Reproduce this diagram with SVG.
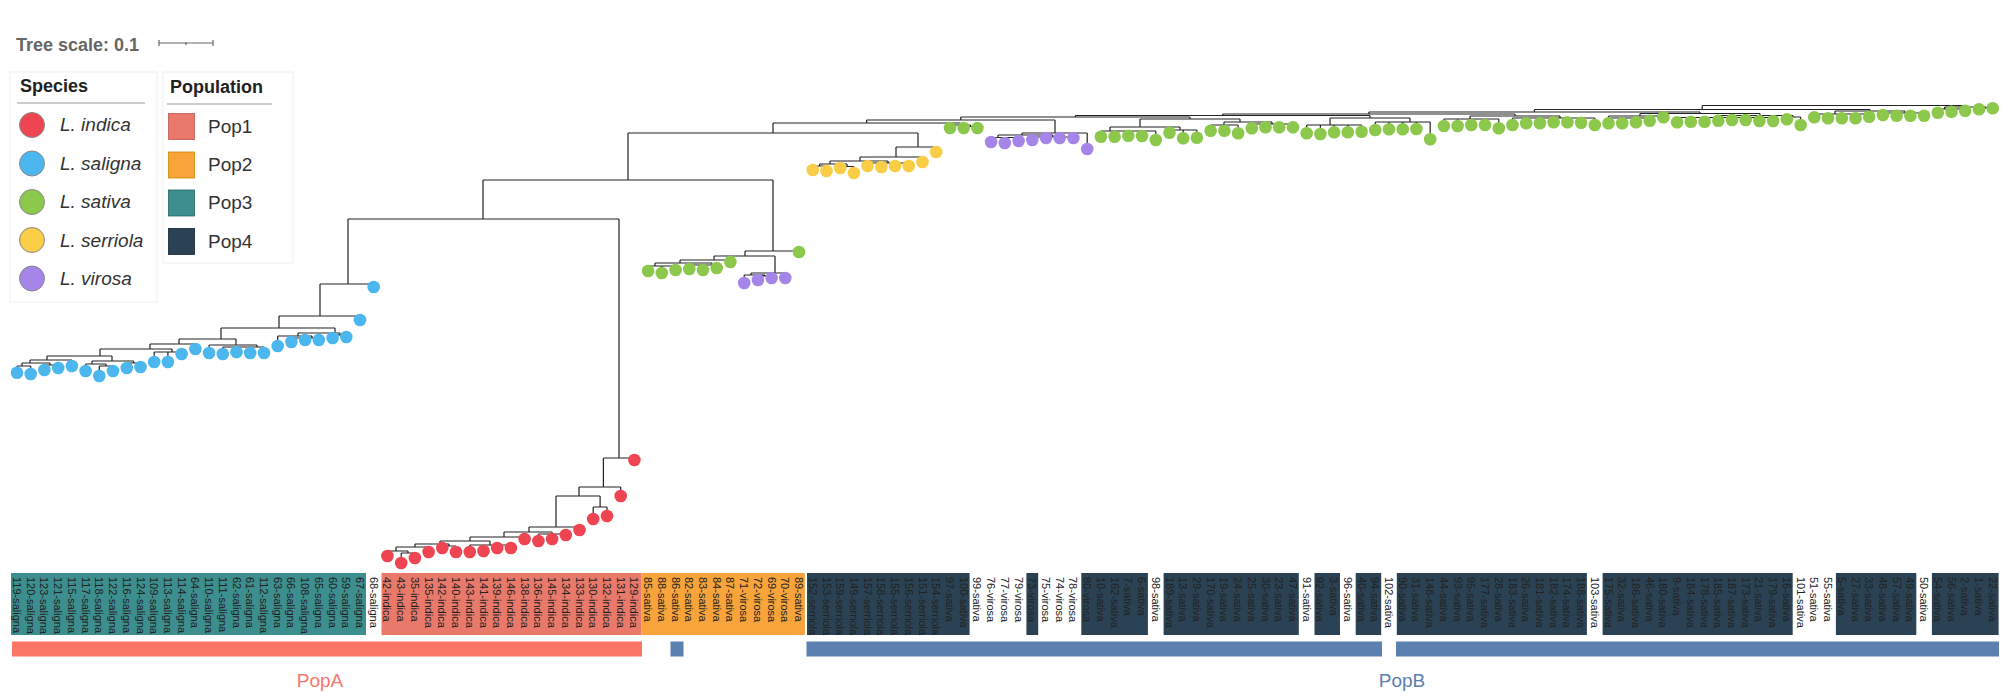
<svg xmlns="http://www.w3.org/2000/svg" width="2009" height="696" viewBox="0 0 2009 696">
<style>
.lb{font-family:"Liberation Sans",Arial,sans-serif;font-size:11px;fill:#222}
.t{font-family:"Liberation Sans",Arial,sans-serif}
.in{fill:#ef4452}.sa{fill:#4cb6ef}.sv{fill:#8cc84b}.se{fill:#f9cd45}.vi{fill:#a586e8}
.br{fill:none;stroke:#222;stroke-width:1.2}
.p1{fill:#e9796a}.p2{fill:#f8a43a}.p3{fill:#3d8e8e}.p4{fill:#2a4254}
.lg circle{stroke:#888;stroke-width:1}
</style>
<rect width="2009" height="696" fill="#fff"/>
<g id="legend-scale">
<text class="t" x="16" y="51" font-size="18" font-weight="bold" fill="#666">Tree scale: 0.1</text>
<path d="M159 43H213M159 40V46M213 40V46M186 42V45" stroke="#666" stroke-width="1.2" fill="none"/>
</g>
<g id="legend-species" class="lg">
<rect x="10" y="72" width="147" height="230" fill="#fff" stroke="#eee"/>
<text class="t" x="20" y="92" font-size="18" font-weight="bold" fill="#222">Species</text>
<path d="M17 103H145" stroke="#999" stroke-width="1.2"/>
<circle class="in" cx="32" cy="125" r="12.5"/><text class="t" x="60" y="131" font-size="19" font-style="italic" fill="#333">L. indica</text>
<circle class="sa" cx="32" cy="163.5" r="12.5"/><text class="t" x="60" y="170" font-size="19" font-style="italic" fill="#333">L. saligna</text>
<circle class="sv" cx="32" cy="202" r="12.5"/><text class="t" x="60" y="208" font-size="19" font-style="italic" fill="#333">L. sativa</text>
<circle class="se" cx="32" cy="240" r="12.5"/><text class="t" x="60" y="247" font-size="19" font-style="italic" fill="#333">L. serriola</text>
<circle class="vi" cx="32" cy="278.5" r="12.5"/><text class="t" x="60" y="285" font-size="19" font-style="italic" fill="#333">L. virosa</text>
</g>
<g id="legend-population">
<rect x="163" y="72" width="130" height="191" fill="#fff" stroke="#eee"/>
<text class="t" x="170" y="93" font-size="18" font-weight="bold" fill="#222">Population</text>
<path d="M167 104H272" stroke="#999" stroke-width="1.2"/>
<rect class="p1" x="168.5" y="113.5" width="26" height="26" stroke="#b55" stroke-width="0.8"/><text class="t" x="208" y="133" font-size="19" fill="#333">Pop1</text>
<rect class="p2" x="168.5" y="152" width="26" height="26" stroke="#c80" stroke-width="0.8"/><text class="t" x="208" y="171" font-size="19" fill="#333">Pop2</text>
<rect class="p3" x="168.5" y="190" width="26" height="26" stroke="#266" stroke-width="0.8"/><text class="t" x="208" y="209" font-size="19" fill="#333">Pop3</text>
<rect class="p4" x="168.5" y="228.5" width="26" height="26" stroke="#123" stroke-width="0.8"/><text class="t" x="208" y="248" font-size="19" fill="#333">Pop4</text>
</g>
<g id="population-strip">
<rect class="p3" x="11" y="573" width="355" height="62"/>
<rect class="p1" x="381.5" y="573" width="260" height="62"/>
<rect class="p2" x="641.3" y="573" width="163.6" height="62"/>
<rect class="p4" x="807" y="573" width="162.6" height="62"/>
<rect class="p4" x="1026.4" y="573" width="11.8" height="62"/>
<rect class="p4" x="1081.3" y="573" width="66.6" height="62"/>
<rect class="p4" x="1163.6" y="573" width="135.2" height="62"/>
<rect class="p4" x="1314.5" y="573" width="25.5" height="62"/>
<rect class="p4" x="1355.7" y="573" width="25.5" height="62"/>
<rect class="p4" x="1396.8" y="573" width="190.1" height="62"/>
<rect class="p4" x="1602.6" y="573" width="190.1" height="62"/>
<rect class="p4" x="1835.9" y="573" width="80.4" height="62"/>
<rect class="p4" x="1931.9" y="573" width="66.7" height="62"/>
</g>
<g id="group-bars">
<rect x="12" y="641.5" width="630" height="15" fill="#fb7566"/>
<rect x="670.5" y="641.5" width="13" height="15" fill="#5a81b0"/>
<rect x="806.5" y="641.5" width="575.5" height="15" fill="#5a81b0"/>
<rect x="1396" y="641.5" width="603" height="15" fill="#5a81b0"/>
<text class="t" x="320" y="687" font-size="19" text-anchor="middle" fill="#f8766d">PopA</text>
<text class="t" x="1402" y="687" font-size="19" text-anchor="middle" fill="#5a80ad">PopB</text>
</g>
<g id="connectors" class="br">
<path d="M483 180V219M348 219H619M628 133V180M483 180H773M773 123V133M628 133H918M773 123H960.3M866.6 120V123M866.6 120H1055M960.8 117V120M960.8 117H1190M1075.4 115.5V117M1075.4 115.5H1370M1222.7 114V115.5M1222.7 114H1515M1368.9 112V114M1368.9 112H1700M1534.4 109.5V112M1534.4 109.5H1870M1702.2 105.5V109.5M1702.2 105.5H1965"/>
<path d="M960.3 123V125M950 125H970.5M950 125V128M970.5 125V126.5M963.7 126.5H977.4M963.7 126.5V128M977.4 126.5V128"/>
<path d="M1055 120V133M1022 133H1087.2M1087.2 133V149M1022 133V135M998 135H1052.8M998 135V137.5M991.1 137.5H1018.6M991.1 137.5V142M1004.8 137.5V143M1018.6 137.5V141M1052.8 135V137M1032.3 137H1073.4M1032.3 137V140M1046 137V138M1059.7 137V138M1073.4 137V138"/>
<path d="M1190 117V119M1140 119H1240M1240 119V122M1224 122H1272M1272 122V124M1251.8 124H1293M1251.8 124V128.3M1265.5 124V127.3M1279.2 124V127.3M1293 124V127.3M1224 122V125M1210.6 125H1238.1M1210.6 125V130.7M1224.4 125V130.7M1238.1 125V133.3M1140 119V127M1110 127H1180M1180 127V130M1169.5 130H1196.9M1169.5 130V132.7M1183.2 130V138.3M1196.9 130V137.7M1110 127V131M1100.9 131H1155.8M1100.9 131V136.7M1114.6 131V136.7M1128.3 131V135.7M1142 131V136M1155.8 131V140"/>
<path d="M1370 115.5V118M1330 118H1410M1330 118V125M1306.7 125H1361.6M1306.7 125V133.3M1320.4 125V134M1334.1 125V132.3M1347.8 125V132.3M1361.6 125V131.7M1410 118V122M1375.3 122H1430.2M1375.3 122V130M1389 122V129.3M1402.7 122V129.3M1416.4 122V129M1430.2 122V139.3"/>
<path d="M1515 114V116M1470 116H1560M1470 116V119M1443.9 119H1498.8M1443.9 119V126M1457.6 119V126M1471.3 119V125M1485 119V125M1498.8 119V128.3M1560 116V118M1512.5 118H1594.8M1512.5 118V125M1526.2 118V123.3M1539.9 118V123.3M1553.6 118V122.3M1567.4 118V122.3M1581.1 118V122.7M1594.8 118V125"/>
<path d="M1700 112V113.5M1640 113.5H1760M1640 113.5V116M1608.5 116H1663.4M1663.4 116V117.3M1608.5 116V118M1608.5 118H1649.7M1608.5 118V123.3M1622.2 118V123.3M1636 118V122.3M1649.7 118V120.7M1760 113.5V115.5M1720 115.5H1793M1793 115.5V117M1786.9 117H1800.6M1786.9 117V119.3M1800.6 117V125M1720 115.5V117.5M1677.1 117.5H1773.2M1677.1 117.5V122.3M1690.8 117.5V121.7M1704.6 117.5V121.7M1718.3 117.5V120.7M1732 117.5V120M1745.7 117.5V120M1759.4 117.5V121M1773.2 117.5V121"/>
<path d="M1870 109.5V111M1835 111H1905M1905 111V113M1882.9 113H1924.1M1882.9 113V115M1896.6 113V115.7M1910.4 113V115.7M1924.1 113V115.7M1835 111V114M1814.3 114H1869.2M1814.3 114V117.3M1828 114V118.3M1841.8 114V118.3M1855.5 114V118.3M1869.2 114V116.7"/>
<path d="M1965 105.5V107M1944.6 107H1986M1986 107V108M1979 108H1992.7M1979 108V109.3M1992.7 108V108.3M1944.6 107V109M1937.8 109H1965.2M1937.8 109V112.7M1951.5 109V111.7M1965.2 109V110.7"/>
<path d="M918 133V147M896 147H936.2M936.2 147V152M896 147V157M860 157H922.5M922.5 157V162M860 157V161M830 161H888M888 161V163M867.6 163H908.8M867.6 163V166M881.4 163V167M895.1 163V166M908.8 163V166M830 161V164M819.6 164H847M819.6 164V166M812.8 166H826.5M812.8 166V170M826.5 166V171M847 164V166.5M840.2 166.5H853.9M840.2 166.5V168M853.9 166.5V173"/>
<path d="M773 180V251M745 251H799M799 251V252M745 251V256M714 256H775M775 256V273M751 273H785.3M785.3 273V278M751 273V275M744.2 275H765M744.2 275V283M765 275V276M757.9 276H771.6M757.9 276V280M771.6 276V278M714 256V260M680 260H730.4M730.4 260V262M680 260V263M655 263H712M712 263V265M689.3 265H716.7M689.3 265V269M703 265V270M716.7 265V268M655 263V266M648.1 266H675.6M648.1 266V271M661.8 266V273M675.6 266V270"/>
<path d="M348 219V284M320 284H373.7M373.7 284V287M320 284V316M279 316H360M360 316V320M279 316V328M221 328H335M335 328V333M298 333H340M340 333V335M332.6 335H346.3M332.6 335V338M346.3 335V337M298 333V336M277.7 336H312M277.7 336V346M312 336V338M291.4 338H318.8M291.4 338V342M305.1 338V340M318.8 338V340M221 328V339M179 339H236M236 339V345M209.1 345H257M209.1 345V353M257 345V347M222.8 347H264M222.8 347V354M236.5 347V352M250.2 347V353M264 347V353M179 339V344M150 344H195.4M195.4 344V349M150 344V349M100 349H172M172 349V352M154.2 352H181.6M154.2 352V362M167.9 352V362M181.6 352V354M100 349V356M47 356H112M112 356V361M92 361H133.6M92 361V364M85.6 364H106M85.6 364V371M106 364V366M99.3 366H113M99.3 366V376M113 366V371M133.6 361V363M126.8 363H140.5M126.8 363V368M140.5 363V367M47 356V360M30 360H71.9M71.9 360V366M30 360V363M22 363H50M50 363V365M44.4 365H58.2M44.4 365V370M58.2 365V368M22 363V366M17 366H30.7M17 366V372.7M30.7 366V374"/>
<path d="M619 219V458M603.4 458H634.4M634.4 458V460M603.4 458V487M579 487H620.7M620.7 487V496M579 487V496M556 496H600.1M600.1 496V507M593.2 507H607M593.2 507V519M607 507V516M556 496V527M529 527H579.5M579.5 527V530M529 527V532M504 532H552.1M552.1 532V534M538.4 534H565.8M538.4 534V541M552.1 534V539M565.8 534V535M504 532V537M470 537H524.6M524.6 537V539M470 537V541M440 541H490M490 541V545M469.8 545H510.9M469.8 545V552M483.5 545V551M497.2 545V548M510.9 545V548M440 541V544M415 544H449M449 544V546M442.3 546H456M442.3 546V548M456 546V552M415 544V547M396 547H428.6M428.6 547V552M396 547V551M387.4 551H408M387.4 551V556M408 551V553M401.2 553H414.9M401.2 553V563M414.9 553V558"/>
</g>
<g id="leaves">
<g id="leaf-119-saligna"><circle class="sa" cx="17" cy="372.7" r="6.3"/><text class="lb" x="13" y="577" transform="rotate(90 13 577)">119-saligna</text></g>
<g id="leaf-120-saligna"><circle class="sa" cx="30.7" cy="374" r="6.3"/><text class="lb" x="26.7" y="577" transform="rotate(90 26.7 577)">120-saligna</text></g>
<g id="leaf-123-saligna"><circle class="sa" cx="44.4" cy="370" r="6.3"/><text class="lb" x="40.4" y="577" transform="rotate(90 40.4 577)">123-saligna</text></g>
<g id="leaf-121-saligna"><circle class="sa" cx="58.2" cy="368" r="6.3"/><text class="lb" x="54.2" y="577" transform="rotate(90 54.2 577)">121-saligna</text></g>
<g id="leaf-115-saligna"><circle class="sa" cx="71.9" cy="366" r="6.3"/><text class="lb" x="67.9" y="577" transform="rotate(90 67.9 577)">115-saligna</text></g>
<g id="leaf-117-saligna"><circle class="sa" cx="85.6" cy="371" r="6.3"/><text class="lb" x="81.6" y="577" transform="rotate(90 81.6 577)">117-saligna</text></g>
<g id="leaf-118-saligna"><circle class="sa" cx="99.3" cy="376" r="6.3"/><text class="lb" x="95.3" y="577" transform="rotate(90 95.3 577)">118-saligna</text></g>
<g id="leaf-122-saligna"><circle class="sa" cx="113" cy="371" r="6.3"/><text class="lb" x="109" y="577" transform="rotate(90 109 577)">122-saligna</text></g>
<g id="leaf-116-saligna"><circle class="sa" cx="126.8" cy="368" r="6.3"/><text class="lb" x="122.8" y="577" transform="rotate(90 122.8 577)">116-saligna</text></g>
<g id="leaf-124-saligna"><circle class="sa" cx="140.5" cy="367" r="6.3"/><text class="lb" x="136.5" y="577" transform="rotate(90 136.5 577)">124-saligna</text></g>
<g id="leaf-109-saligna"><circle class="sa" cx="154.2" cy="362" r="6.3"/><text class="lb" x="150.2" y="577" transform="rotate(90 150.2 577)">109-saligna</text></g>
<g id="leaf-113-saligna"><circle class="sa" cx="167.9" cy="362" r="6.3"/><text class="lb" x="163.9" y="577" transform="rotate(90 163.9 577)">113-saligna</text></g>
<g id="leaf-114-saligna"><circle class="sa" cx="181.6" cy="354" r="6.3"/><text class="lb" x="177.6" y="577" transform="rotate(90 177.6 577)">114-saligna</text></g>
<g id="leaf-64-saligna"><circle class="sa" cx="195.4" cy="349" r="6.3"/><text class="lb" x="191.4" y="577" transform="rotate(90 191.4 577)">64-saligna</text></g>
<g id="leaf-110-saligna"><circle class="sa" cx="209.1" cy="353" r="6.3"/><text class="lb" x="205.1" y="577" transform="rotate(90 205.1 577)">110-saligna</text></g>
<g id="leaf-111-saligna"><circle class="sa" cx="222.8" cy="354" r="6.3"/><text class="lb" x="218.8" y="577" transform="rotate(90 218.8 577)">111-saligna</text></g>
<g id="leaf-62-saligna"><circle class="sa" cx="236.5" cy="352" r="6.3"/><text class="lb" x="232.5" y="577" transform="rotate(90 232.5 577)">62-saligna</text></g>
<g id="leaf-61-saligna"><circle class="sa" cx="250.2" cy="353" r="6.3"/><text class="lb" x="246.2" y="577" transform="rotate(90 246.2 577)">61-saligna</text></g>
<g id="leaf-112-saligna"><circle class="sa" cx="264" cy="353" r="6.3"/><text class="lb" x="260" y="577" transform="rotate(90 260 577)">112-saligna</text></g>
<g id="leaf-63-saligna"><circle class="sa" cx="277.7" cy="346" r="6.3"/><text class="lb" x="273.7" y="577" transform="rotate(90 273.7 577)">63-saligna</text></g>
<g id="leaf-66-saligna"><circle class="sa" cx="291.4" cy="342" r="6.3"/><text class="lb" x="287.4" y="577" transform="rotate(90 287.4 577)">66-saligna</text></g>
<g id="leaf-108-saligna"><circle class="sa" cx="305.1" cy="340" r="6.3"/><text class="lb" x="301.1" y="577" transform="rotate(90 301.1 577)">108-saligna</text></g>
<g id="leaf-65-saligna"><circle class="sa" cx="318.8" cy="340" r="6.3"/><text class="lb" x="314.8" y="577" transform="rotate(90 314.8 577)">65-saligna</text></g>
<g id="leaf-60-saligna"><circle class="sa" cx="332.6" cy="338" r="6.3"/><text class="lb" x="328.6" y="577" transform="rotate(90 328.6 577)">60-saligna</text></g>
<g id="leaf-59-saligna"><circle class="sa" cx="346.3" cy="337" r="6.3"/><text class="lb" x="342.3" y="577" transform="rotate(90 342.3 577)">59-saligna</text></g>
<g id="leaf-67-saligna"><circle class="sa" cx="360" cy="320" r="6.3"/><text class="lb" x="356" y="577" transform="rotate(90 356 577)">67-saligna</text></g>
<g id="leaf-68-saligna"><circle class="sa" cx="373.7" cy="287" r="6.3"/><text class="lb" x="369.7" y="577" transform="rotate(90 369.7 577)">68-saligna</text></g>
<g id="leaf-42-indica"><circle class="in" cx="387.4" cy="556" r="6.3"/><text class="lb" x="383.4" y="577" transform="rotate(90 383.4 577)">42-indica</text></g>
<g id="leaf-43-indica"><circle class="in" cx="401.2" cy="563" r="6.3"/><text class="lb" x="397.2" y="577" transform="rotate(90 397.2 577)">43-indica</text></g>
<g id="leaf-35-indica"><circle class="in" cx="414.9" cy="558" r="6.3"/><text class="lb" x="410.9" y="577" transform="rotate(90 410.9 577)">35-indica</text></g>
<g id="leaf-135-indica"><circle class="in" cx="428.6" cy="552" r="6.3"/><text class="lb" x="424.6" y="577" transform="rotate(90 424.6 577)">135-indica</text></g>
<g id="leaf-142-indica"><circle class="in" cx="442.3" cy="548" r="6.3"/><text class="lb" x="438.3" y="577" transform="rotate(90 438.3 577)">142-indica</text></g>
<g id="leaf-140-indica"><circle class="in" cx="456" cy="552" r="6.3"/><text class="lb" x="452" y="577" transform="rotate(90 452 577)">140-indica</text></g>
<g id="leaf-143-indica"><circle class="in" cx="469.8" cy="552" r="6.3"/><text class="lb" x="465.8" y="577" transform="rotate(90 465.8 577)">143-indica</text></g>
<g id="leaf-141-indica"><circle class="in" cx="483.5" cy="551" r="6.3"/><text class="lb" x="479.5" y="577" transform="rotate(90 479.5 577)">141-indica</text></g>
<g id="leaf-139-indica"><circle class="in" cx="497.2" cy="548" r="6.3"/><text class="lb" x="493.2" y="577" transform="rotate(90 493.2 577)">139-indica</text></g>
<g id="leaf-146-indica"><circle class="in" cx="510.9" cy="548" r="6.3"/><text class="lb" x="506.9" y="577" transform="rotate(90 506.9 577)">146-indica</text></g>
<g id="leaf-138-indica"><circle class="in" cx="524.6" cy="539" r="6.3"/><text class="lb" x="520.6" y="577" transform="rotate(90 520.6 577)">138-indica</text></g>
<g id="leaf-136-indica"><circle class="in" cx="538.4" cy="541" r="6.3"/><text class="lb" x="534.4" y="577" transform="rotate(90 534.4 577)">136-indica</text></g>
<g id="leaf-145-indica"><circle class="in" cx="552.1" cy="539" r="6.3"/><text class="lb" x="548.1" y="577" transform="rotate(90 548.1 577)">145-indica</text></g>
<g id="leaf-134-indica"><circle class="in" cx="565.8" cy="535" r="6.3"/><text class="lb" x="561.8" y="577" transform="rotate(90 561.8 577)">134-indica</text></g>
<g id="leaf-133-indica"><circle class="in" cx="579.5" cy="530" r="6.3"/><text class="lb" x="575.5" y="577" transform="rotate(90 575.5 577)">133-indica</text></g>
<g id="leaf-130-indica"><circle class="in" cx="593.2" cy="519" r="6.3"/><text class="lb" x="589.2" y="577" transform="rotate(90 589.2 577)">130-indica</text></g>
<g id="leaf-132-indica"><circle class="in" cx="607" cy="516" r="6.3"/><text class="lb" x="603" y="577" transform="rotate(90 603 577)">132-indica</text></g>
<g id="leaf-131-indica"><circle class="in" cx="620.7" cy="496" r="6.3"/><text class="lb" x="616.7" y="577" transform="rotate(90 616.7 577)">131-indica</text></g>
<g id="leaf-129-indica"><circle class="in" cx="634.4" cy="460" r="6.3"/><text class="lb" x="630.4" y="577" transform="rotate(90 630.4 577)">129-indica</text></g>
<g id="leaf-85-sativa"><circle class="sv" cx="648.1" cy="271" r="6.3"/><text class="lb" x="644.1" y="577" transform="rotate(90 644.1 577)">85-sativa</text></g>
<g id="leaf-88-sativa"><circle class="sv" cx="661.8" cy="273" r="6.3"/><text class="lb" x="657.8" y="577" transform="rotate(90 657.8 577)">88-sativa</text></g>
<g id="leaf-86-sativa"><circle class="sv" cx="675.6" cy="270" r="6.3"/><text class="lb" x="671.6" y="577" transform="rotate(90 671.6 577)">86-sativa</text></g>
<g id="leaf-82-sativa"><circle class="sv" cx="689.3" cy="269" r="6.3"/><text class="lb" x="685.3" y="577" transform="rotate(90 685.3 577)">82-sativa</text></g>
<g id="leaf-83-sativa"><circle class="sv" cx="703" cy="270" r="6.3"/><text class="lb" x="699" y="577" transform="rotate(90 699 577)">83-sativa</text></g>
<g id="leaf-84-sativa"><circle class="sv" cx="716.7" cy="268" r="6.3"/><text class="lb" x="712.7" y="577" transform="rotate(90 712.7 577)">84-sativa</text></g>
<g id="leaf-87-sativa"><circle class="sv" cx="730.4" cy="262" r="6.3"/><text class="lb" x="726.4" y="577" transform="rotate(90 726.4 577)">87-sativa</text></g>
<g id="leaf-71-virosa"><circle class="vi" cx="744.2" cy="283" r="6.3"/><text class="lb" x="740.2" y="577" transform="rotate(90 740.2 577)">71-virosa</text></g>
<g id="leaf-72-virosa"><circle class="vi" cx="757.9" cy="280" r="6.3"/><text class="lb" x="753.9" y="577" transform="rotate(90 753.9 577)">72-virosa</text></g>
<g id="leaf-69-virosa"><circle class="vi" cx="771.6" cy="278" r="6.3"/><text class="lb" x="767.6" y="577" transform="rotate(90 767.6 577)">69-virosa</text></g>
<g id="leaf-70-virosa"><circle class="vi" cx="785.3" cy="278" r="6.3"/><text class="lb" x="781.3" y="577" transform="rotate(90 781.3 577)">70-virosa</text></g>
<g id="leaf-89-sativa"><circle class="sv" cx="799" cy="252" r="6.3"/><text class="lb" x="795" y="577" transform="rotate(90 795 577)">89-sativa</text></g>
<g id="leaf-152-serriola"><circle class="se" cx="812.8" cy="170" r="6.3"/><text class="lb" x="808.8" y="577" transform="rotate(90 808.8 577)">152-serriola</text></g>
<g id="leaf-153-serriola"><circle class="se" cx="826.5" cy="171" r="6.3"/><text class="lb" x="822.5" y="577" transform="rotate(90 822.5 577)">153-serriola</text></g>
<g id="leaf-159-serriola"><circle class="se" cx="840.2" cy="168" r="6.3"/><text class="lb" x="836.2" y="577" transform="rotate(90 836.2 577)">159-serriola</text></g>
<g id="leaf-149-serriola"><circle class="se" cx="853.9" cy="173" r="6.3"/><text class="lb" x="849.9" y="577" transform="rotate(90 849.9 577)">149-serriola</text></g>
<g id="leaf-157-serriola"><circle class="se" cx="867.6" cy="166" r="6.3"/><text class="lb" x="863.6" y="577" transform="rotate(90 863.6 577)">157-serriola</text></g>
<g id="leaf-158-serriola"><circle class="se" cx="881.4" cy="167" r="6.3"/><text class="lb" x="877.4" y="577" transform="rotate(90 877.4 577)">158-serriola</text></g>
<g id="leaf-155-serriola"><circle class="se" cx="895.1" cy="166" r="6.3"/><text class="lb" x="891.1" y="577" transform="rotate(90 891.1 577)">155-serriola</text></g>
<g id="leaf-156-serriola"><circle class="se" cx="908.8" cy="166" r="6.3"/><text class="lb" x="904.8" y="577" transform="rotate(90 904.8 577)">156-serriola</text></g>
<g id="leaf-151-serriola"><circle class="se" cx="922.5" cy="162" r="6.3"/><text class="lb" x="918.5" y="577" transform="rotate(90 918.5 577)">151-serriola</text></g>
<g id="leaf-154-serriola"><circle class="se" cx="936.2" cy="152" r="6.3"/><text class="lb" x="932.2" y="577" transform="rotate(90 932.2 577)">154-serriola</text></g>
<g id="leaf-97-sativa"><circle class="sv" cx="950" cy="128" r="6.3"/><text class="lb" x="946" y="577" transform="rotate(90 946 577)">97-sativa</text></g>
<g id="leaf-100-sativa"><circle class="sv" cx="963.7" cy="128" r="6.3"/><text class="lb" x="959.7" y="577" transform="rotate(90 959.7 577)">100-sativa</text></g>
<g id="leaf-99-sativa"><circle class="sv" cx="977.4" cy="128" r="6.3"/><text class="lb" x="973.4" y="577" transform="rotate(90 973.4 577)">99-sativa</text></g>
<g id="leaf-76-virosa"><circle class="vi" cx="991.1" cy="142" r="6.3"/><text class="lb" x="987.1" y="577" transform="rotate(90 987.1 577)">76-virosa</text></g>
<g id="leaf-77-virosa"><circle class="vi" cx="1004.8" cy="143" r="6.3"/><text class="lb" x="1000.8" y="577" transform="rotate(90 1000.8 577)">77-virosa</text></g>
<g id="leaf-79-virosa"><circle class="vi" cx="1018.6" cy="141" r="6.3"/><text class="lb" x="1014.6" y="577" transform="rotate(90 1014.6 577)">79-virosa</text></g>
<g id="leaf-73-virosa"><circle class="vi" cx="1032.3" cy="140" r="6.3"/><text class="lb" x="1028.3" y="577" transform="rotate(90 1028.3 577)">73-virosa</text></g>
<g id="leaf-75-virosa"><circle class="vi" cx="1046" cy="138" r="6.3"/><text class="lb" x="1042" y="577" transform="rotate(90 1042 577)">75-virosa</text></g>
<g id="leaf-74-virosa"><circle class="vi" cx="1059.7" cy="138" r="6.3"/><text class="lb" x="1055.7" y="577" transform="rotate(90 1055.7 577)">74-virosa</text></g>
<g id="leaf-78-virosa"><circle class="vi" cx="1073.4" cy="138" r="6.3"/><text class="lb" x="1069.4" y="577" transform="rotate(90 1069.4 577)">78-virosa</text></g>
<g id="leaf-80-virosa"><circle class="vi" cx="1087.2" cy="149" r="6.3"/><text class="lb" x="1083.2" y="577" transform="rotate(90 1083.2 577)">80-virosa</text></g>
<g id="leaf-10-sativa"><circle class="sv" cx="1100.9" cy="136.7" r="6.3"/><text class="lb" x="1096.9" y="577" transform="rotate(90 1096.9 577)">10-sativa</text></g>
<g id="leaf-162-sativa"><circle class="sv" cx="1114.6" cy="136.7" r="6.3"/><text class="lb" x="1110.6" y="577" transform="rotate(90 1110.6 577)">162-sativa</text></g>
<g id="leaf-7-sativa"><circle class="sv" cx="1128.3" cy="135.7" r="6.3"/><text class="lb" x="1124.3" y="577" transform="rotate(90 1124.3 577)">7-sativa</text></g>
<g id="leaf-6-sativa"><circle class="sv" cx="1142" cy="136" r="6.3"/><text class="lb" x="1138" y="577" transform="rotate(90 1138 577)">6-sativa</text></g>
<g id="leaf-98-sativa"><circle class="sv" cx="1155.8" cy="140" r="6.3"/><text class="lb" x="1151.8" y="577" transform="rotate(90 1151.8 577)">98-sativa</text></g>
<g id="leaf-189-sativa"><circle class="sv" cx="1169.5" cy="132.7" r="6.3"/><text class="lb" x="1165.5" y="577" transform="rotate(90 1165.5 577)">189-sativa</text></g>
<g id="leaf-13-sativa"><circle class="sv" cx="1183.2" cy="138.3" r="6.3"/><text class="lb" x="1179.2" y="577" transform="rotate(90 1179.2 577)">13-sativa</text></g>
<g id="leaf-29-sativa"><circle class="sv" cx="1196.9" cy="137.7" r="6.3"/><text class="lb" x="1192.9" y="577" transform="rotate(90 1192.9 577)">29-sativa</text></g>
<g id="leaf-170-sativa"><circle class="sv" cx="1210.6" cy="130.7" r="6.3"/><text class="lb" x="1206.6" y="577" transform="rotate(90 1206.6 577)">170-sativa</text></g>
<g id="leaf-19-sativa"><circle class="sv" cx="1224.4" cy="130.7" r="6.3"/><text class="lb" x="1220.4" y="577" transform="rotate(90 1220.4 577)">19-sativa</text></g>
<g id="leaf-24-sativa"><circle class="sv" cx="1238.1" cy="133.3" r="6.3"/><text class="lb" x="1234.1" y="577" transform="rotate(90 1234.1 577)">24-sativa</text></g>
<g id="leaf-25-sativa"><circle class="sv" cx="1251.8" cy="128.3" r="6.3"/><text class="lb" x="1247.8" y="577" transform="rotate(90 1247.8 577)">25-sativa</text></g>
<g id="leaf-30-sativa"><circle class="sv" cx="1265.5" cy="127.3" r="6.3"/><text class="lb" x="1261.5" y="577" transform="rotate(90 1261.5 577)">30-sativa</text></g>
<g id="leaf-23-sativa"><circle class="sv" cx="1279.2" cy="127.3" r="6.3"/><text class="lb" x="1275.2" y="577" transform="rotate(90 1275.2 577)">23-sativa</text></g>
<g id="leaf-47-sativa"><circle class="sv" cx="1293" cy="127.3" r="6.3"/><text class="lb" x="1289" y="577" transform="rotate(90 1289 577)">47-sativa</text></g>
<g id="leaf-91-sativa"><circle class="sv" cx="1306.7" cy="133.3" r="6.3"/><text class="lb" x="1302.7" y="577" transform="rotate(90 1302.7 577)">91-sativa</text></g>
<g id="leaf-92-sativa"><circle class="sv" cx="1320.4" cy="134" r="6.3"/><text class="lb" x="1316.4" y="577" transform="rotate(90 1316.4 577)">92-sativa</text></g>
<g id="leaf-3-sativa"><circle class="sv" cx="1334.1" cy="132.3" r="6.3"/><text class="lb" x="1330.1" y="577" transform="rotate(90 1330.1 577)">3-sativa</text></g>
<g id="leaf-96-sativa"><circle class="sv" cx="1347.8" cy="132.3" r="6.3"/><text class="lb" x="1343.8" y="577" transform="rotate(90 1343.8 577)">96-sativa</text></g>
<g id="leaf-40-sativa"><circle class="sv" cx="1361.6" cy="131.7" r="6.3"/><text class="lb" x="1357.6" y="577" transform="rotate(90 1357.6 577)">40-sativa</text></g>
<g id="leaf-94-sativa"><circle class="sv" cx="1375.3" cy="130" r="6.3"/><text class="lb" x="1371.3" y="577" transform="rotate(90 1371.3 577)">94-sativa</text></g>
<g id="leaf-102-sativa"><circle class="sv" cx="1389" cy="129.3" r="6.3"/><text class="lb" x="1385" y="577" transform="rotate(90 1385 577)">102-sativa</text></g>
<g id="leaf-90-sativa"><circle class="sv" cx="1402.7" cy="129.3" r="6.3"/><text class="lb" x="1398.7" y="577" transform="rotate(90 1398.7 577)">90-sativa</text></g>
<g id="leaf-31-sativa"><circle class="sv" cx="1416.4" cy="129" r="6.3"/><text class="lb" x="1412.4" y="577" transform="rotate(90 1412.4 577)">31-sativa</text></g>
<g id="leaf-148-sativa"><circle class="sv" cx="1430.2" cy="139.3" r="6.3"/><text class="lb" x="1426.2" y="577" transform="rotate(90 1426.2 577)">148-sativa</text></g>
<g id="leaf-44-sativa"><circle class="sv" cx="1443.9" cy="126" r="6.3"/><text class="lb" x="1439.9" y="577" transform="rotate(90 1439.9 577)">44-sativa</text></g>
<g id="leaf-93-sativa"><circle class="sv" cx="1457.6" cy="126" r="6.3"/><text class="lb" x="1453.6" y="577" transform="rotate(90 1453.6 577)">93-sativa</text></g>
<g id="leaf-95-sativa"><circle class="sv" cx="1471.3" cy="125" r="6.3"/><text class="lb" x="1467.3" y="577" transform="rotate(90 1467.3 577)">95-sativa</text></g>
<g id="leaf-177-sativa"><circle class="sv" cx="1485" cy="125" r="6.3"/><text class="lb" x="1481" y="577" transform="rotate(90 1481 577)">177-sativa</text></g>
<g id="leaf-28-sativa"><circle class="sv" cx="1498.8" cy="128.3" r="6.3"/><text class="lb" x="1494.8" y="577" transform="rotate(90 1494.8 577)">28-sativa</text></g>
<g id="leaf-183-sativa"><circle class="sv" cx="1512.5" cy="125" r="6.3"/><text class="lb" x="1508.5" y="577" transform="rotate(90 1508.5 577)">183-sativa</text></g>
<g id="leaf-26-sativa"><circle class="sv" cx="1526.2" cy="123.3" r="6.3"/><text class="lb" x="1522.2" y="577" transform="rotate(90 1522.2 577)">26-sativa</text></g>
<g id="leaf-181-sativa"><circle class="sv" cx="1539.9" cy="123.3" r="6.3"/><text class="lb" x="1535.9" y="577" transform="rotate(90 1535.9 577)">181-sativa</text></g>
<g id="leaf-182-sativa"><circle class="sv" cx="1553.6" cy="122.3" r="6.3"/><text class="lb" x="1549.6" y="577" transform="rotate(90 1549.6 577)">182-sativa</text></g>
<g id="leaf-174-sativa"><circle class="sv" cx="1567.4" cy="122.3" r="6.3"/><text class="lb" x="1563.4" y="577" transform="rotate(90 1563.4 577)">174-sativa</text></g>
<g id="leaf-188-sativa"><circle class="sv" cx="1581.1" cy="122.7" r="6.3"/><text class="lb" x="1577.1" y="577" transform="rotate(90 1577.1 577)">188-sativa</text></g>
<g id="leaf-103-sativa"><circle class="sv" cx="1594.8" cy="125" r="6.3"/><text class="lb" x="1590.8" y="577" transform="rotate(90 1590.8 577)">103-sativa</text></g>
<g id="leaf-175-sativa"><circle class="sv" cx="1608.5" cy="123.3" r="6.3"/><text class="lb" x="1604.5" y="577" transform="rotate(90 1604.5 577)">175-sativa</text></g>
<g id="leaf-32-sativa"><circle class="sv" cx="1622.2" cy="123.3" r="6.3"/><text class="lb" x="1618.2" y="577" transform="rotate(90 1618.2 577)">32-sativa</text></g>
<g id="leaf-186-sativa"><circle class="sv" cx="1636" cy="122.3" r="6.3"/><text class="lb" x="1632" y="577" transform="rotate(90 1632 577)">186-sativa</text></g>
<g id="leaf-46-sativa"><circle class="sv" cx="1649.7" cy="120.7" r="6.3"/><text class="lb" x="1645.7" y="577" transform="rotate(90 1645.7 577)">46-sativa</text></g>
<g id="leaf-180-sativa"><circle class="sv" cx="1663.4" cy="117.3" r="6.3"/><text class="lb" x="1659.4" y="577" transform="rotate(90 1659.4 577)">180-sativa</text></g>
<g id="leaf-9-sativa"><circle class="sv" cx="1677.1" cy="122.3" r="6.3"/><text class="lb" x="1673.1" y="577" transform="rotate(90 1673.1 577)">9-sativa</text></g>
<g id="leaf-184-sativa"><circle class="sv" cx="1690.8" cy="121.7" r="6.3"/><text class="lb" x="1686.8" y="577" transform="rotate(90 1686.8 577)">184-sativa</text></g>
<g id="leaf-178-sativa"><circle class="sv" cx="1704.6" cy="121.7" r="6.3"/><text class="lb" x="1700.6" y="577" transform="rotate(90 1700.6 577)">178-sativa</text></g>
<g id="leaf-185-sativa"><circle class="sv" cx="1718.3" cy="120.7" r="6.3"/><text class="lb" x="1714.3" y="577" transform="rotate(90 1714.3 577)">185-sativa</text></g>
<g id="leaf-187-sativa"><circle class="sv" cx="1732" cy="120" r="6.3"/><text class="lb" x="1728" y="577" transform="rotate(90 1728 577)">187-sativa</text></g>
<g id="leaf-173-sativa"><circle class="sv" cx="1745.7" cy="120" r="6.3"/><text class="lb" x="1741.7" y="577" transform="rotate(90 1741.7 577)">173-sativa</text></g>
<g id="leaf-21-sativa"><circle class="sv" cx="1759.4" cy="121" r="6.3"/><text class="lb" x="1755.4" y="577" transform="rotate(90 1755.4 577)">21-sativa</text></g>
<g id="leaf-179-sativa"><circle class="sv" cx="1773.2" cy="121" r="6.3"/><text class="lb" x="1769.2" y="577" transform="rotate(90 1769.2 577)">179-sativa</text></g>
<g id="leaf-16-sativa"><circle class="sv" cx="1786.9" cy="119.3" r="6.3"/><text class="lb" x="1782.9" y="577" transform="rotate(90 1782.9 577)">16-sativa</text></g>
<g id="leaf-101-sativa"><circle class="sv" cx="1800.6" cy="125" r="6.3"/><text class="lb" x="1796.6" y="577" transform="rotate(90 1796.6 577)">101-sativa</text></g>
<g id="leaf-51-sativa"><circle class="sv" cx="1814.3" cy="117.3" r="6.3"/><text class="lb" x="1810.3" y="577" transform="rotate(90 1810.3 577)">51-sativa</text></g>
<g id="leaf-55-sativa"><circle class="sv" cx="1828" cy="118.3" r="6.3"/><text class="lb" x="1824" y="577" transform="rotate(90 1824 577)">55-sativa</text></g>
<g id="leaf-5-sativa"><circle class="sv" cx="1841.8" cy="118.3" r="6.3"/><text class="lb" x="1837.8" y="577" transform="rotate(90 1837.8 577)">5-sativa</text></g>
<g id="leaf-27-sativa"><circle class="sv" cx="1855.5" cy="118.3" r="6.3"/><text class="lb" x="1851.5" y="577" transform="rotate(90 1851.5 577)">27-sativa</text></g>
<g id="leaf-33-sativa"><circle class="sv" cx="1869.2" cy="116.7" r="6.3"/><text class="lb" x="1865.2" y="577" transform="rotate(90 1865.2 577)">33-sativa</text></g>
<g id="leaf-48-sativa"><circle class="sv" cx="1882.9" cy="115" r="6.3"/><text class="lb" x="1878.9" y="577" transform="rotate(90 1878.9 577)">48-sativa</text></g>
<g id="leaf-57-sativa"><circle class="sv" cx="1896.6" cy="115.7" r="6.3"/><text class="lb" x="1892.6" y="577" transform="rotate(90 1892.6 577)">57-sativa</text></g>
<g id="leaf-49-sativa"><circle class="sv" cx="1910.4" cy="115.7" r="6.3"/><text class="lb" x="1906.4" y="577" transform="rotate(90 1906.4 577)">49-sativa</text></g>
<g id="leaf-50-sativa"><circle class="sv" cx="1924.1" cy="115.7" r="6.3"/><text class="lb" x="1920.1" y="577" transform="rotate(90 1920.1 577)">50-sativa</text></g>
<g id="leaf-54-sativa"><circle class="sv" cx="1937.8" cy="112.7" r="6.3"/><text class="lb" x="1933.8" y="577" transform="rotate(90 1933.8 577)">54-sativa</text></g>
<g id="leaf-56-sativa"><circle class="sv" cx="1951.5" cy="111.7" r="6.3"/><text class="lb" x="1947.5" y="577" transform="rotate(90 1947.5 577)">56-sativa</text></g>
<g id="leaf-2-sativa"><circle class="sv" cx="1965.2" cy="110.7" r="6.3"/><text class="lb" x="1961.2" y="577" transform="rotate(90 1961.2 577)">2-sativa</text></g>
<g id="leaf-1-sativa"><circle class="sv" cx="1979" cy="109.3" r="6.3"/><text class="lb" x="1975" y="577" transform="rotate(90 1975 577)">1-sativa</text></g>
<g id="leaf-22-sativa"><circle class="sv" cx="1992.7" cy="108.3" r="6.3"/><text class="lb" x="1988.7" y="577" transform="rotate(90 1988.7 577)">22-sativa</text></g>
</g>
</svg>
